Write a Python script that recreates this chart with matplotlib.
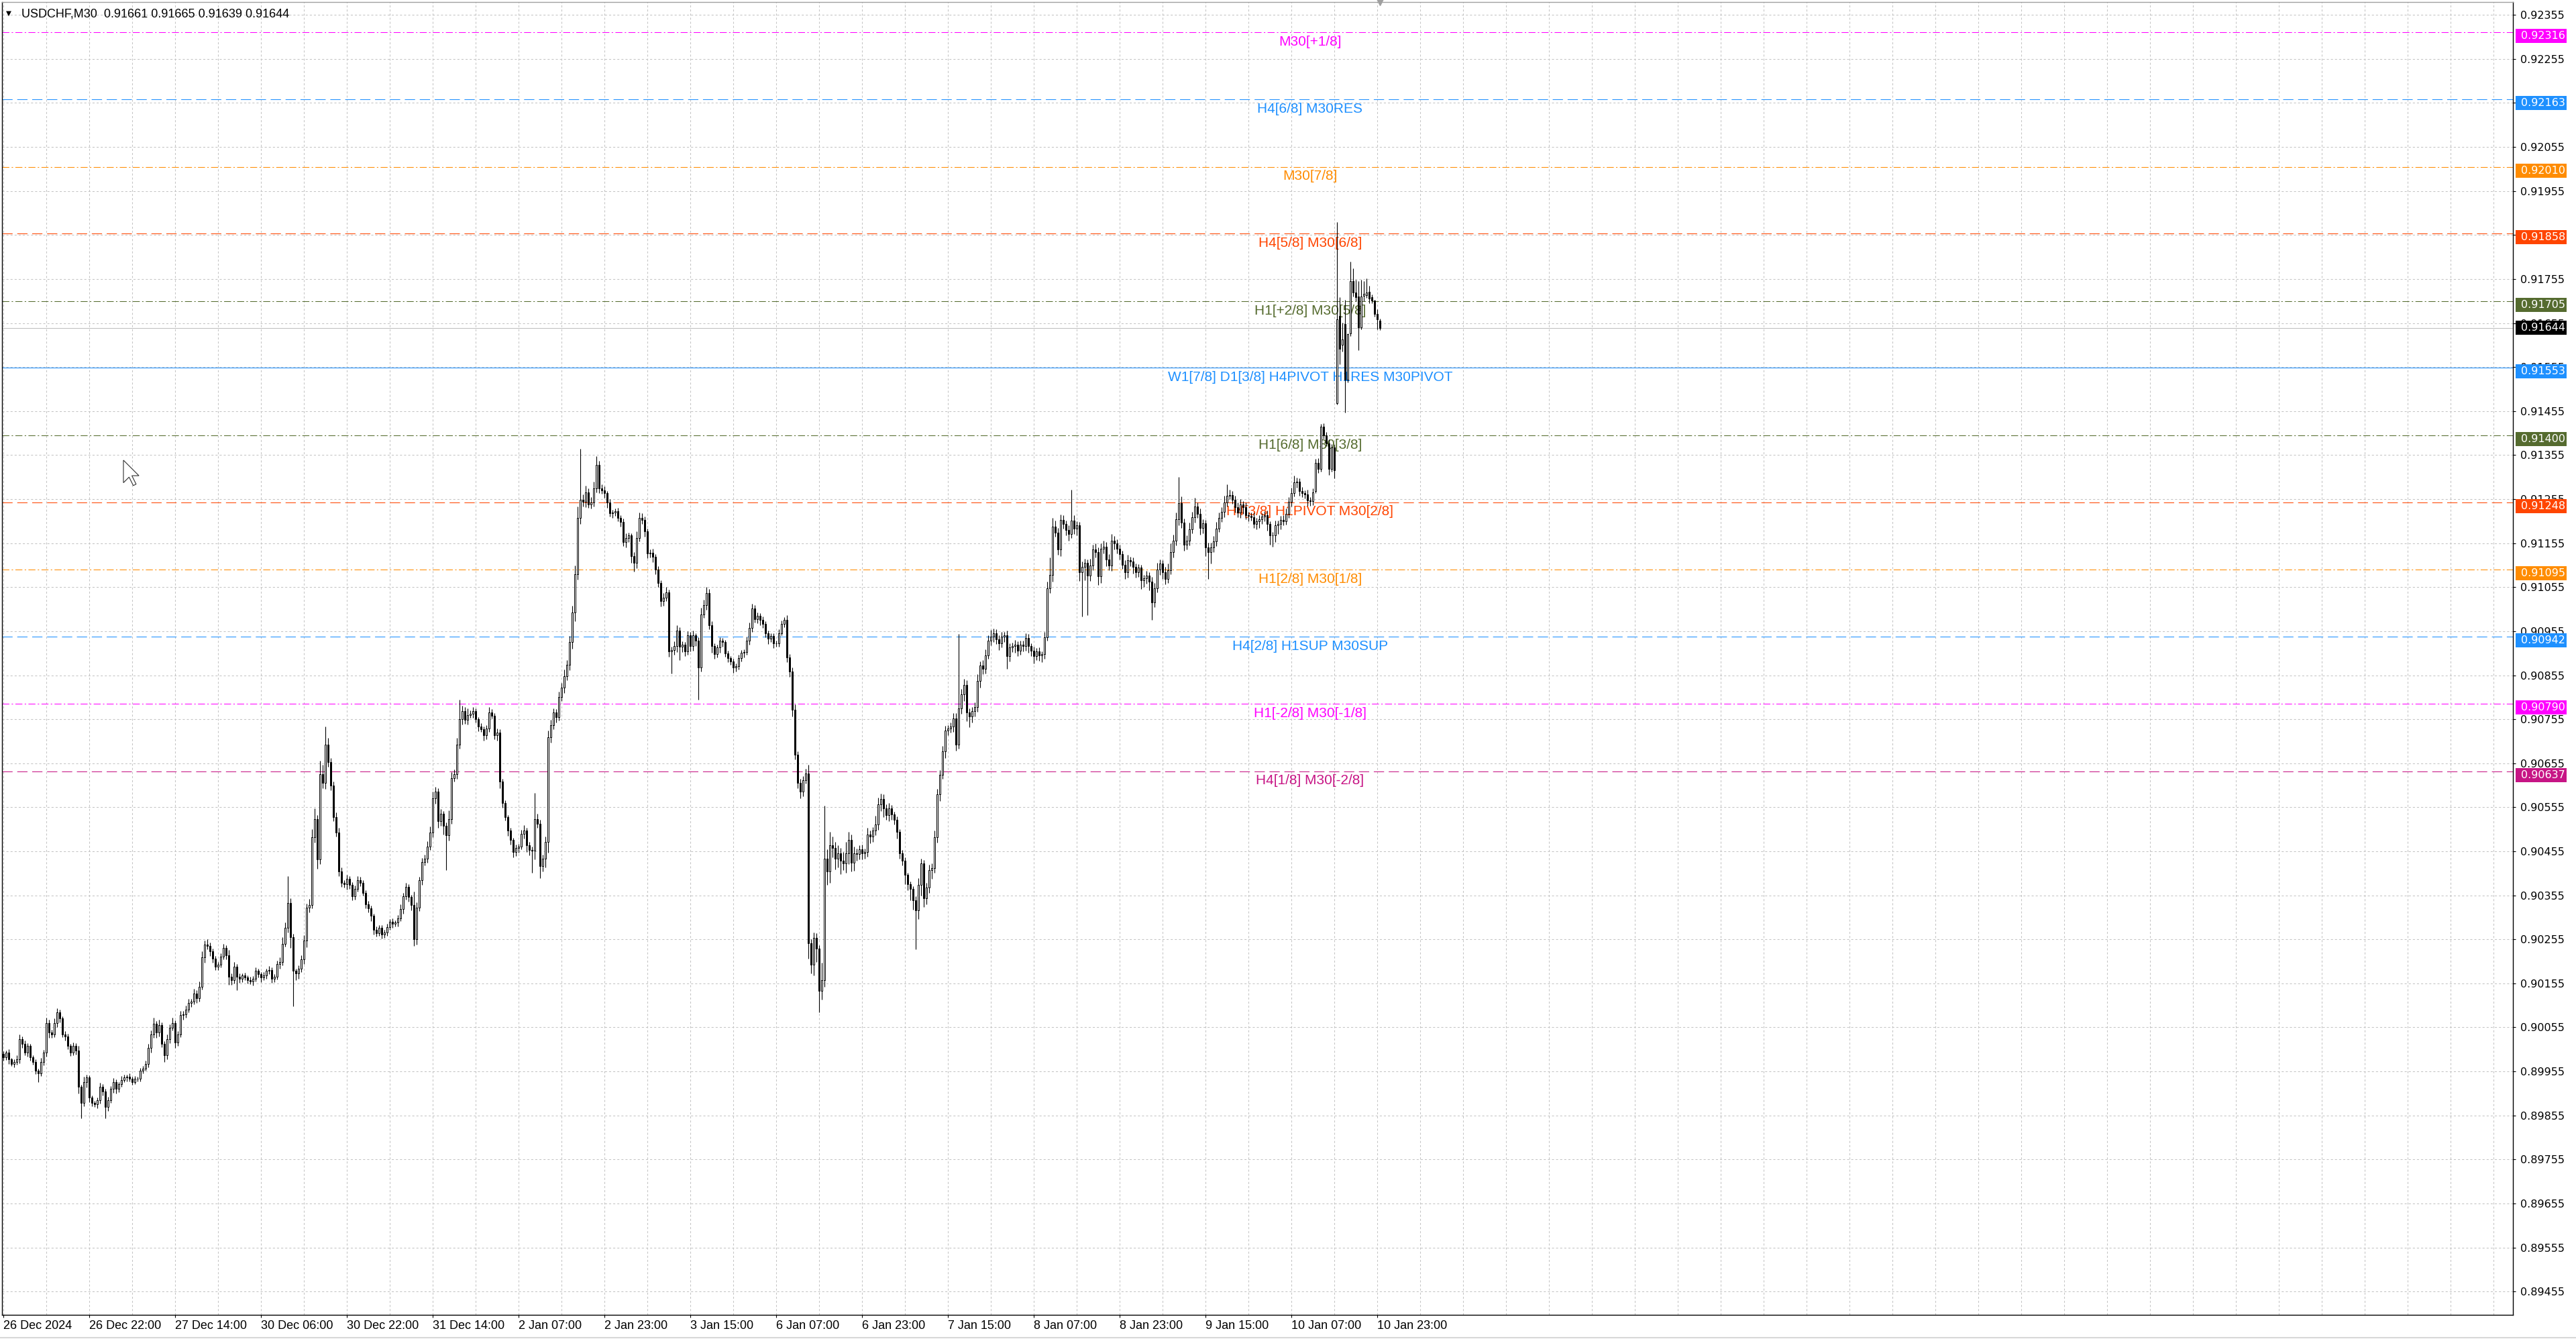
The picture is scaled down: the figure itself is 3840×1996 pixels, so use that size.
import matplotlib
matplotlib.use('Agg')
import matplotlib.pyplot as plt
import matplotlib.transforms as mtransforms
from matplotlib.patches import Rectangle, Polygon
import numpy as np

plt.rcParams['lines.scale_dashes'] = False

symbol = 'USDCHF,M30'
point = 1e-5

# M30 bars, prices in points (0.00001)
opens = [
    89995, 89987, 89998, 89982, 89972, 89977, 89982, 90029, 90018, 89998,
    90013, 89987, 89977, 89957, 89951, 89977, 89998, 90065, 90044, 90039,
    90065, 90090, 90075, 90039, 90034, 90013, 89998, 90013, 90003, 89920,
    89884, 89931, 89941, 89895, 89884, 89880, 89889, 89920, 89910, 89874,
    89890, 89915, 89931, 89915, 89926, 89936, 89941, 89943, 89938, 89931,
    89939, 89938, 89957, 89962, 89972, 90008, 90039, 90063, 90044, 90060,
    90018, 89991, 90029, 90054, 90065, 90021, 90039, 90083, 90085, 90096,
    90111, 90113, 90132, 90121, 90147, 90214, 90243, 90240, 90228, 90211,
    90193, 90198, 90216, 90235, 90219, 90170, 90163, 90193, 90170, 90166,
    90173, 90168, 90163, 90160, 90166, 90183, 90176, 90168, 90173, 90183,
    90186, 90166, 90170, 90199, 90204, 90245, 90281, 90338, 90260, 90183,
    90178, 90188, 90209, 90252, 90327, 90333, 90487, 90528, 90436, 90631,
    90611, 90698, 90657, 90605, 90533, 90497, 90410, 90384, 90380, 90392,
    90379, 90353, 90369, 90389, 90384, 90361, 90335, 90325, 90309, 90276,
    90269, 90281, 90266, 90271, 90283, 90295, 90291, 90293, 90302, 90324,
    90353, 90374, 90351, 90333, 90255, 90327, 90389, 90430, 90438, 90466,
    90497, 90575, 90590, 90523, 90541, 90513, 90492, 90528, 90621, 90631,
    90698, 90755, 90773, 90753, 90765, 90767, 90773, 90755, 90738, 90732,
    90719, 90734, 90770, 90763, 90719, 90724, 90613, 90564, 90533, 90502,
    90481, 90453, 90462, 90466, 90494, 90502, 90469, 90458, 90456, 90528,
    90518, 90422, 90438, 90477, 90714, 90742, 90770, 90760, 90806, 90827,
    90853, 90878, 90930, 90997, 91084, 91213, 91254, 91249, 91270, 91243,
    91247, 91280, 91332, 91280, 91275, 91268, 91247, 91223, 91224, 91227,
    91213, 91203, 91157, 91167, 91172, 91126, 91110, 91167, 91213, 91208,
    91182, 91131, 91133, 91124, 91095, 91064, 91023, 91031, 91043, 90909,
    90912, 90922, 90956, 90920, 90925, 90909, 90945, 90921, 90945, 90933,
    90873, 90993, 91015, 91041, 90969, 90921, 90903, 90918, 90933, 90930,
    90905, 90894, 90886, 90873, 90875, 90894, 90906, 90907, 90933, 90963,
    91007, 90983, 90990, 90981, 90971, 90951, 90938, 90944, 90927, 90928,
    90951, 90972, 90981, 90895, 90863, 90776, 90674, 90610, 90590, 90617,
    90632, 90246, 90198, 90259, 90234, 90138, 90162, 90439, 90409, 90469,
    90462, 90439, 90451, 90433, 90427, 90451, 90481, 90429, 90451, 90449,
    90460, 90451, 90453, 90493, 90488, 90502, 90516, 90562, 90574, 90553,
    90538, 90552, 90539, 90526, 90499, 90451, 90433, 90401, 90381, 90369,
    90343, 90321, 90379, 90427, 90349, 90373, 90413, 90417, 90487, 90584,
    90629, 90682, 90730, 90734, 90738, 90757, 90698, 90779, 90812, 90833,
    90770, 90762, 90774, 90782, 90842, 90877, 90869, 90900, 90933, 90943,
    90951, 90936, 90927, 90942, 90946, 90899, 90918, 90921, 90925, 90911,
    90925, 90921, 90940, 90921, 90910, 90899, 90909, 90900, 90903, 90941,
    91053, 91083, 91192, 91179, 91140, 91208, 91198, 91185, 91176, 91207,
    91188, 91195, 91089, 91101, 91110, 91081, 91104, 91140, 91135, 91080,
    91143, 91147, 91118, 91104, 91161, 91155, 91142, 91130, 91106, 91089,
    91116, 91113, 91101, 91089, 91099, 91071, 91075, 91082, 91068, 91021,
    91053, 91095, 91108, 91089, 91074, 91093, 91134, 91160, 91210, 91246,
    91201, 91152, 91160, 91186, 91214, 91238, 91222, 91189, 91200, 91146,
    91134, 91146, 91159, 91188, 91213, 91226, 91248, 91263, 91264, 91254,
    91237, 91224, 91243, 91237, 91219, 91217, 91214, 91199, 91205, 91210,
    91215, 91219, 91198, 91172, 91173, 91196, 91198, 91208, 91205, 91222,
    91249, 91269, 91293, 91294, 91273, 91268, 91266, 91252, 91250, 91274,
    91338, 91323, 91420, 91400, 91382, 91324, 91372, 91473, 91671, 91605,
    91653, 91526, 91632, 91750, 91724, 91715, 91645, 91717, 91719, 91726,
    91713, 91706, 91676, 91661,
]

closes = [
    89987, 89998, 89982, 89972, 89977, 89982, 90029, 90018, 89998, 90013,
    89987, 89977, 89957, 89951, 89977, 89998, 90065, 90044, 90039, 90065,
    90090, 90075, 90039, 90034, 90013, 89998, 90013, 90003, 89920, 89884,
    89931, 89941, 89895, 89884, 89880, 89889, 89920, 89910, 89874, 89890,
    89915, 89931, 89915, 89926, 89936, 89941, 89943, 89938, 89931, 89939,
    89938, 89957, 89962, 89972, 90008, 90039, 90063, 90044, 90060, 90018,
    89991, 90029, 90054, 90065, 90021, 90039, 90083, 90085, 90096, 90111,
    90113, 90132, 90121, 90147, 90214, 90243, 90240, 90228, 90211, 90193,
    90198, 90216, 90235, 90219, 90170, 90163, 90193, 90170, 90166, 90173,
    90168, 90163, 90160, 90166, 90183, 90176, 90168, 90173, 90183, 90186,
    90166, 90170, 90199, 90204, 90245, 90281, 90338, 90260, 90183, 90178,
    90188, 90209, 90252, 90327, 90333, 90487, 90528, 90436, 90631, 90611,
    90698, 90657, 90605, 90533, 90497, 90410, 90384, 90380, 90392, 90379,
    90353, 90369, 90389, 90384, 90361, 90335, 90325, 90309, 90276, 90269,
    90281, 90266, 90271, 90283, 90295, 90291, 90293, 90302, 90324, 90353,
    90374, 90351, 90333, 90255, 90327, 90389, 90430, 90438, 90466, 90497,
    90575, 90590, 90523, 90541, 90513, 90492, 90528, 90621, 90631, 90698,
    90755, 90773, 90753, 90765, 90767, 90773, 90755, 90738, 90732, 90719,
    90734, 90770, 90763, 90719, 90724, 90613, 90564, 90533, 90502, 90481,
    90453, 90462, 90466, 90494, 90502, 90469, 90458, 90456, 90528, 90518,
    90422, 90438, 90477, 90714, 90742, 90770, 90760, 90806, 90827, 90853,
    90878, 90930, 90997, 91084, 91213, 91254, 91249, 91270, 91243, 91247,
    91280, 91332, 91280, 91275, 91268, 91247, 91223, 91224, 91227, 91213,
    91203, 91157, 91167, 91172, 91126, 91110, 91167, 91213, 91208, 91182,
    91131, 91133, 91124, 91095, 91064, 91023, 91031, 91043, 90909, 90912,
    90922, 90956, 90920, 90925, 90909, 90945, 90921, 90945, 90933, 90873,
    90993, 91015, 91041, 90969, 90921, 90903, 90918, 90933, 90930, 90905,
    90894, 90886, 90873, 90875, 90894, 90906, 90907, 90933, 90963, 91007,
    90983, 90990, 90981, 90971, 90951, 90938, 90944, 90927, 90928, 90951,
    90972, 90981, 90895, 90863, 90776, 90674, 90610, 90590, 90617, 90632,
    90246, 90198, 90259, 90234, 90138, 90162, 90439, 90409, 90469, 90462,
    90439, 90451, 90433, 90427, 90451, 90481, 90429, 90451, 90449, 90460,
    90451, 90453, 90493, 90488, 90502, 90516, 90562, 90574, 90553, 90538,
    90552, 90539, 90526, 90499, 90451, 90433, 90401, 90381, 90369, 90343,
    90321, 90379, 90427, 90349, 90373, 90413, 90417, 90487, 90584, 90629,
    90682, 90730, 90734, 90738, 90757, 90698, 90779, 90812, 90833, 90770,
    90762, 90774, 90782, 90842, 90877, 90869, 90900, 90933, 90943, 90951,
    90936, 90927, 90942, 90946, 90899, 90918, 90921, 90925, 90911, 90925,
    90921, 90940, 90921, 90910, 90899, 90909, 90900, 90903, 90941, 91053,
    91083, 91192, 91179, 91140, 91208, 91198, 91185, 91176, 91207, 91188,
    91195, 91089, 91101, 91110, 91081, 91104, 91140, 91135, 91080, 91143,
    91147, 91118, 91104, 91161, 91155, 91142, 91130, 91106, 91089, 91116,
    91113, 91101, 91089, 91099, 91071, 91075, 91082, 91068, 91021, 91053,
    91095, 91108, 91089, 91074, 91093, 91134, 91160, 91210, 91246, 91201,
    91152, 91160, 91186, 91214, 91238, 91222, 91189, 91200, 91146, 91134,
    91146, 91159, 91188, 91213, 91226, 91248, 91263, 91264, 91254, 91237,
    91224, 91243, 91237, 91219, 91217, 91214, 91199, 91205, 91210, 91215,
    91219, 91198, 91172, 91173, 91196, 91198, 91208, 91205, 91222, 91249,
    91269, 91293, 91294, 91273, 91268, 91266, 91252, 91250, 91270, 91338,
    91323, 91420, 91400, 91382, 91324, 91372, 91321, 91663, 91597, 91617,
    91526, 91630, 91750, 91724, 91714, 91645, 91715, 91721, 91724, 91711,
    91706, 91676, 91663, 91644,
]

# shadows above / below the body, in points
upper_wick = [
    6, 5, 8, 4, 6, 9, 10, 5, 7, 6,
    5, 4, 6, 5, 8, 6, 12, 8, 6, 10,
    8, 6, 5, 7, 6, 5, 8, 6, 10, 5,
    12, 7, 5, 6, 4, 7, 9, 6, 5, 8,
    7, 9, 6, 5, 8, 6, 5, 7, 5, 6,
    4, 6, 5, 8, 10, 9, 14, 7, 12, 6,
    5, 10, 8, 12, 6, 8, 10, 7, 9, 8,
    6, 10, 7, 12, 14, 10, 12, 8, 6, 7,
    6, 8, 10, 6, 12, 7, 10, 6, 8, 5,
    6, 5, 7, 6, 8, 6, 5, 7, 6, 8,
    5, 6, 8, 10, 15, 12, 60, 10, 8, 6,
    8, 10, 12, 9, 14, 18, 25, 10, 30, 20,
    40, 15, 10, 8, 10, 12, 8, 6, 9, 7,
    6, 9, 10, 8, 6, 5, 7, 6, 5, 8,
    7, 6, 5, 8, 6, 7, 5, 8, 10, 8,
    10, 6, 5, 30, 12, 8, 10, 9, 12, 14,
    16, 12, 8, 10, 6, 8, 20, 14, 10, 15,
    45, 12, 10, 15, 8, 10, 6, 5, 8, 6,
    7, 12, 8, 6, 10, 8, 6, 7, 5, 6,
    5, 8, 6, 10, 12, 6, 7, 8, 60, 12,
    8, 10, 12, 15, 12, 10, 8, 12, 10, 15,
    12, 14, 15, 20, 25, 115, 12, 15, 10, 12,
    14, 20, 10, 8, 9, 6, 8, 7, 6, 8,
    6, 8, 10, 7, 6, 8, 15, 12, 10, 8,
    6, 8, 9, 6, 8, 6, 10, 12, 6, 8,
    10, 12, 8, 7, 6, 10, 8, 12, 6, 8,
    15, 12, 14, 10, 8, 6, 7, 8, 6, 5,
    6, 5, 7, 6, 8, 6, 7, 10, 12, 10,
    8, 7, 6, 8, 6, 5, 7, 6, 5, 8,
    7, 6, 10, 8, 10, 12, 8, 10, 8, 10,
    20, 10, 12, 10, 8, 40, 120, 20, 30, 20,
    15, 18, 12, 20, 25, 18, 12, 15, 10, 8,
    10, 8, 15, 10, 8, 20, 15, 12, 10, 8,
    12, 8, 6, 8, 6, 7, 8, 6, 5, 6,
    10, 15, 12, 8, 10, 12, 10, 15, 12, 10,
    12, 10, 8, 10, 12, 12, 170, 12, 14, 10,
    10, 8, 12, 15, 10, 12, 14, 12, 15, 10,
    8, 10, 12, 8, 10, 9, 8, 10, 7, 8,
    9, 10, 8, 7, 10, 8, 9, 6, 12, 15,
    40, 20, 15, 10, 12, 10, 8, 10, 70, 12,
    10, 8, 12, 10, 8, 15, 12, 14, 10, 12,
    14, 10, 12, 15, 10, 8, 10, 7, 10, 12,
    8, 10, 7, 8, 6, 8, 10, 7, 10, 12,
    15, 10, 8, 12, 15, 20, 15, 15, 60, 15,
    10, 12, 15, 12, 20, 10, 12, 10, 8, 10,
    10, 12, 15, 12, 10, 15, 25, 12, 10, 8,
    10, 12, 8, 10, 7, 8, 10, 8, 9, 8,
    8, 10, 7, 8, 10, 8, 9, 10, 12, 10,
    12, 15, 10, 8, 9, 7, 10, 8, 10, 8,
    10, 5, 8, 8, 8, 8, 6, 221, 43, 39,
    55, 2, 45, 30, 30, 35, 39, 29, 33, 13,
    7, 2, 10, 4,
]

lower_wick = [
    8, 6, 10, 5, 7, 6, 8, 10, 6, 9,
    7, 6, 8, 20, 6, 8, 10, 12, 8, 6,
    10, 8, 6, 9, 7, 8, 6, 10, 15, 36,
    8, 12, 10, 8, 6, 9, 7, 10, 26, 8,
    6, 8, 10, 7, 6, 5, 8, 6, 7, 5,
    6, 5, 7, 6, 8, 10, 8, 12, 10, 8,
    15, 8, 10, 6, 12, 8, 6, 10, 8, 7,
    9, 6, 10, 8, 6, 12, 8, 10, 9, 7,
    8, 6, 7, 10, 18, 12, 8, 30, 10, 8,
    6, 8, 7, 10, 6, 8, 10, 6, 8, 7,
    10, 8, 6, 10, 8, 7, 10, 25, 80, 15,
    12, 8, 10, 15, 10, 8, 12, 20, 10, 12,
    15, 10, 12, 10, 8, 12, 10, 8, 12, 10,
    10, 8, 6, 9, 7, 10, 8, 12, 10, 8,
    6, 9, 7, 8, 6, 10, 7, 8, 6, 10,
    8, 10, 12, 15, 12, 8, 10, 7, 9, 8,
    10, 12, 15, 10, 20, 80, 12, 10, 8, 12,
    10, 12, 8, 10, 7, 9, 8, 10, 6, 12,
    10, 8, 7, 10, 12, 15, 10, 8, 12, 10,
    12, 8, 10, 7, 10, 15, 12, 50, 20, 10,
    28, 12, 20, 25, 12, 10, 12, 8, 10, 12,
    10, 12, 15, 20, 12, 15, 10, 12, 8, 10,
    8, 10, 12, 8, 10, 12, 8, 10, 7, 9,
    10, 8, 12, 10, 15, 20, 12, 8, 10, 12,
    10, 8, 12, 10, 8, 12, 10, 8, 12, 50,
    10, 15, 30, 12, 10, 8, 12, 10, 12, 73,
    10, 8, 12, 10, 15, 10, 8, 12, 10, 8,
    10, 8, 12, 9, 7, 8, 10, 6, 8, 10,
    8, 10, 12, 8, 10, 12, 8, 10, 7, 8,
    6, 8, 10, 12, 15, 10, 12, 15, 10, 8,
    35, 20, 25, 30, 48, 20, 15, 30, 25, 20,
    25, 20, 30, 15, 20, 25, 20, 18, 15, 12,
    15, 12, 10, 15, 12, 10, 12, 15, 20, 12,
    15, 12, 10, 15, 12, 10, 20, 15, 25, 20,
    88, 20, 25, 20, 15, 12, 20, 10, 12, 15,
    10, 15, 12, 10, 12, 15, 10, 12, 15, 20,
    25, 15, 12, 10, 15, 12, 10, 8, 10, 12,
    10, 15, 8, 12, 30, 12, 10, 15, 12, 10,
    12, 10, 15, 12, 18, 10, 12, 15, 10, 8,
    12, 15, 10, 12, 15, 10, 12, 15, 10, 12,
    15, 20, 100, 30, 90, 12, 10, 12, 20, 15,
    12, 15, 10, 12, 15, 10, 12, 10, 15, 12,
    10, 15, 12, 10, 20, 15, 12, 20, 40, 12,
    10, 12, 15, 12, 10, 8, 12, 10, 15, 12,
    15, 12, 10, 8, 12, 10, 15, 12, 20, 60,
    25, 12, 10, 8, 10, 12, 10, 8, 10, 12,
    10, 12, 15, 10, 12, 8, 10, 12, 15, 12,
    10, 15, 20, 25, 15, 20, 12, 10, 8, 10,
    10, 8, 12, 10, 8, 10, 12, 10, 8, 6,
    8, 5, 8, 6, 14, 6, 18, 3, 35, 15,
    74, 6, 7, 9, 9, 51, 5, 12, 7, 11,
    6, 6, 23, 5,
]

time_labels = ['26 Dec 2024', '26 Dec 22:00', '27 Dec 14:00', '30 Dec 06:00',
               '30 Dec 22:00', '31 Dec 14:00', '2 Jan 07:00', '2 Jan 23:00',
               '3 Jan 15:00', '6 Jan 07:00', '6 Jan 23:00', '7 Jan 15:00',
               '8 Jan 07:00', '8 Jan 23:00', '9 Jan 15:00', '10 Jan 07:00',
               '10 Jan 23:00']

level_prices = [0.92316, 0.92163, 0.92010, 0.91858, 0.91705, 0.91553,
                0.91400, 0.91248, 0.91095, 0.90942, 0.90790, 0.90637]
level_labels = ['M30[+1/8]', 'H4[6/8] M30RES', 'M30[7/8]', 'H4[5/8] M30[6/8]',
                'H1[+2/8] M30[5/8]', 'W1[7/8] D1[3/8] H4PIVOT H1RES M30PIVOT',
                'H1[6/8] M30[3/8]', 'H4[3/8] H1PIVOT M30[2/8]', 'H1[2/8] M30[1/8]',
                'H4[2/8] H1SUP M30SUP', 'H1[-2/8] M30[-1/8]', 'H4[1/8] M30[-2/8]']
level_colors = ['#ff00ff', '#1e90ff', '#ff8c00', '#ff4500', '#556b2f', '#1e90ff',
                '#556b2f', '#ff4500', '#ff8c00', '#1e90ff', '#ff00ff', '#c71585']
level_kinds = ['dashdot', 'dashed', 'dashdot', 'dashed', 'dashdot', 'solid',
               'dashdot', 'dashed', 'dashdot', 'dashed', 'dashdot', 'dashed']

n = min(len(opens), len(closes), len(upper_wick), len(lower_wick))
o = np.array(opens[:n]) * point
c = np.array(closes[:n]) * point
hi = np.maximum(o, c) + np.array(upper_wick[:n]) * point
lo = np.minimum(o, c) - np.array(lower_wick[:n]) * point
x = np.arange(n)
bid = c[-1]

W, H = 3840, 1996
fig = plt.figure(figsize=(W / 100, H / 100), dpi=100)
fig.patch.set_facecolor('white')
ax = fig.add_axes([3 / W, 36 / H, 3743 / W, 1957.5 / H])
ymin, ymax = 0.89402, 0.92385
ax.set_xlim(-0.5, 935.25)
ax.set_ylim(ymin, ymax)

# grid
grid_ls = (0, (2.2, 2.2))
yticks = [0.89455 + 0.001 * k for k in range(30)]
ax.hlines(yticks, -0.5, 935.25, colors='#c4c4c4', linestyles=[grid_ls], lw=0.75, zorder=0.5)
ax.vlines(np.arange(0, 936, 16), ymin, ymax, colors='#c4c4c4', linestyles=[grid_ls], lw=0.75, zorder=0.5)

# level lines + labels
styles = {'dashed': (0, (11, 5)), 'dashdot': (0, (7.5, 2.5, 1.5, 2.5)), 'solid': '-'}
for p, lab, col, kind in zip(level_prices, level_labels, level_colors, level_kinds):
    ax.axhline(p, color=col, ls=styles[kind], lw=0.75, zorder=1.5)
    ax.annotate(lab, (487, p), xytext=(0, -3.5), textcoords='offset points',
                color=col, fontsize=15, family='Liberation Sans',
                ha='center', va='top', zorder=2)
ax.axhline(bid, color='#c0c0c0', lw=0.75, zorder=1.4)

# candles
up = c >= o
ax.vlines(x, lo, hi, color='black', lw=0.8, zorder=3)
ax.bar(x, np.abs(c - o), width=0.5, bottom=np.minimum(o, c),
       color=np.where(up, 'white', 'black'), edgecolor='black', linewidth=0.72, zorder=4)

# axes look
for s in ['left', 'right', 'bottom']:
    ax.spines[s].set_color('black')
    ax.spines[s].set_linewidth(1.0)
ax.spines['top'].set_color('#a0a0a0')
ax.spines['top'].set_linewidth(1.0)

ax.yaxis.tick_right()
ax.set_yticks(yticks)
ax.set_yticklabels(['%.5f' % t for t in yticks])
ax.tick_params(axis='y', length=3, width=0.8, pad=5, labelsize=11.5, colors='black')
ax.set_xticks(np.arange(len(time_labels)) * 32)
ax.set_xticklabels(time_labels, ha='left', fontsize=13, family='Liberation Sans')
ax.tick_params(axis='x', length=3, width=0.8, pad=3)

# price tags on the right scale (level tags sit a few pixels below their line)
px_per_unit = 1957.5 / (ymax - ymin)
half_h = 10.5 / px_per_unit
shift = 5.5 / px_per_unit
trans = mtransforms.blended_transform_factory(fig.transFigure, ax.transData)
tags = [(p, col, p - shift) for p, col in zip(level_prices, level_colors)] + [(bid, 'black', bid)]
for p, col, yc in tags:
    ax.add_patch(Rectangle((3750 / W, yc - half_h), 76 / W, 2 * half_h, transform=trans,
                           facecolor=col, edgecolor='none', clip_on=False, zorder=10))
    ax.text(3758 / W, yc, '%.5f' % p, transform=trans, color='white', fontsize=11.5,
            ha='left', va='center', clip_on=False, zorder=11)

# chart shift marker
ax.plot([n - 1], [ymax], marker='v', color='#a0a0a0', markersize=7, clip_on=False, zorder=12)

# title
title = '%s  %.5f %.5f %.5f %.5f' % (symbol, o[-1], hi[-1], lo[-1], c[-1])
fig.text(9 / W, 1 - 19.5 / H, '\u25bc', fontsize=7.5, family='DejaVu Sans', va='center', ha='left')
fig.text(32 / W, 1 - 26 / H, title, fontsize=13, family='Liberation Sans', va='baseline', ha='left')

# mouse pointer left on the chart
cur = np.array([[0, 0], [0, 16], [4, 12], [7, 18], [9, 17], [6, 11], [11, 11]]) * 2.1
cur[:, 0] += 184
cur[:, 1] = H - (686 + cur[:, 1])
fig.add_artist(Polygon(cur, closed=True, facecolor='white', edgecolor='#303030',
                       lw=0.8, transform=None, zorder=20))

fig.add_artist(plt.Line2D([0, 1], [2.5 / H, 2.5 / H], color='#d8d8d8', lw=1.5))

fig.savefig('out.png', dpi=100)
plt.close(fig)
